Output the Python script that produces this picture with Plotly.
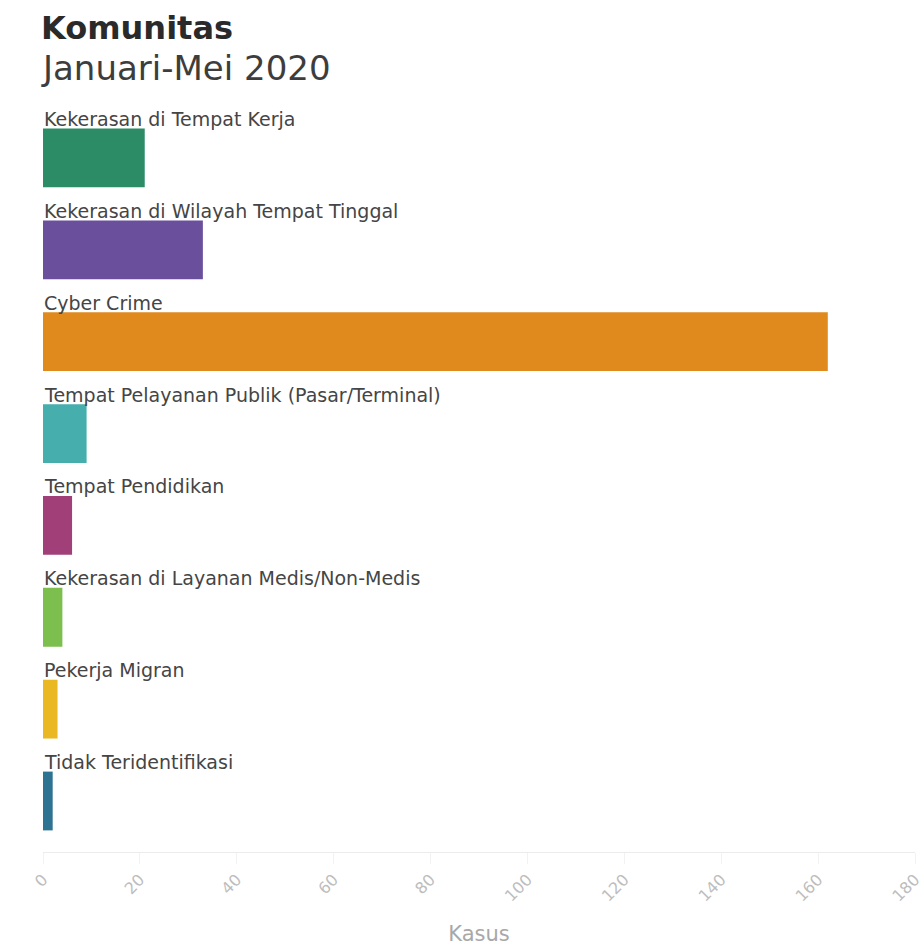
import plotly.graph_objects as go

categories = [
    "Kekerasan di Tempat Kerja",
    "Kekerasan di Wilayah Tempat Tinggal",
    "Cyber Crime",
    "Tempat Pelayanan Publik (Pasar/Terminal)",
    "Tempat Pendidikan",
    "Kekerasan di Layanan Medis/Non-Medis",
    "Pekerja Migran",
    "Tidak Teridentifikasi",
]
values = [21, 33, 162, 9, 6, 4, 3, 2]
colors = ["#2b8c66", "#6a4f9c", "#e08a1e", "#46afae", "#a13f78", "#7cbf4f", "#e9b823", "#2f7393"]
tick_vals = [0, 20, 40, 60, 80, 100, 120, 140, 160, 180]

W, H = 923, 946
mt, mb, ml, mr = 112, 94, 43, 8
plot_h = H - mt - mb

fig = go.Figure()
fig.add_trace(go.Bar(
    x=values, y=categories, orientation="h",
    marker=dict(color=colors, line=dict(width=0)),
    width=0.64, hoverinfo="x+y",
))

for c in categories:
    fig.add_annotation(
        x=0, y=c, xref="x", yref="y", text=c, showarrow=False,
        xanchor="left", yanchor="bottom", yshift=27, borderpad=0,
        font=dict(family="DejaVu Sans", size=19, color="#454545"),
    )

def py(px):
    return (H - mb - px) / plot_h

fig.add_annotation(x=0, y=py(28), xref="paper", yref="paper", text="<b>Komunitas</b>",
                   showarrow=False, xanchor="left", yanchor="middle", xshift=-4,
                   font=dict(family="DejaVu Sans", size=32, color="#2a2a2a"))
fig.add_annotation(x=0, y=py(68), xref="paper", yref="paper", text="Januari-Mei 2020",
                   showarrow=False, xanchor="left", yanchor="middle", xshift=-4,
                   font=dict(family="DejaVu Sans", size=34, color="#3d3d3d"))

fig.update_layout(
    width=W, height=H,
    margin=dict(l=ml, r=mr, t=mt, b=mb, pad=0, autoexpand=False),
    plot_bgcolor="white", paper_bgcolor="white",
    showlegend=False, bargap=0.36,
    xaxis=dict(
        range=[0, 180], tickvals=tick_vals, tickangle=-45, automargin=False,
        ticklabeloverflow="allow",
        tickfont=dict(family="DejaVu Sans", size=16, color="#bdbdbd"),
        showgrid=False, zeroline=False, showline=True, linecolor="#ececec", linewidth=1,
        ticks="outside", ticklen=11, tickcolor="#f2f2f2", tickwidth=1,
        title=dict(text="Kasus", font=dict(family="DejaVu Sans", size=21, color="#a8a8a8"), standoff=26),
        fixedrange=True,
    ),
    yaxis=dict(
        categoryorder="array", categoryarray=categories, autorange="reversed",
        showticklabels=False, showgrid=False, zeroline=False, showline=False, ticks="",
        fixedrange=True,
    ),
)

fig.write_html("out.html")
